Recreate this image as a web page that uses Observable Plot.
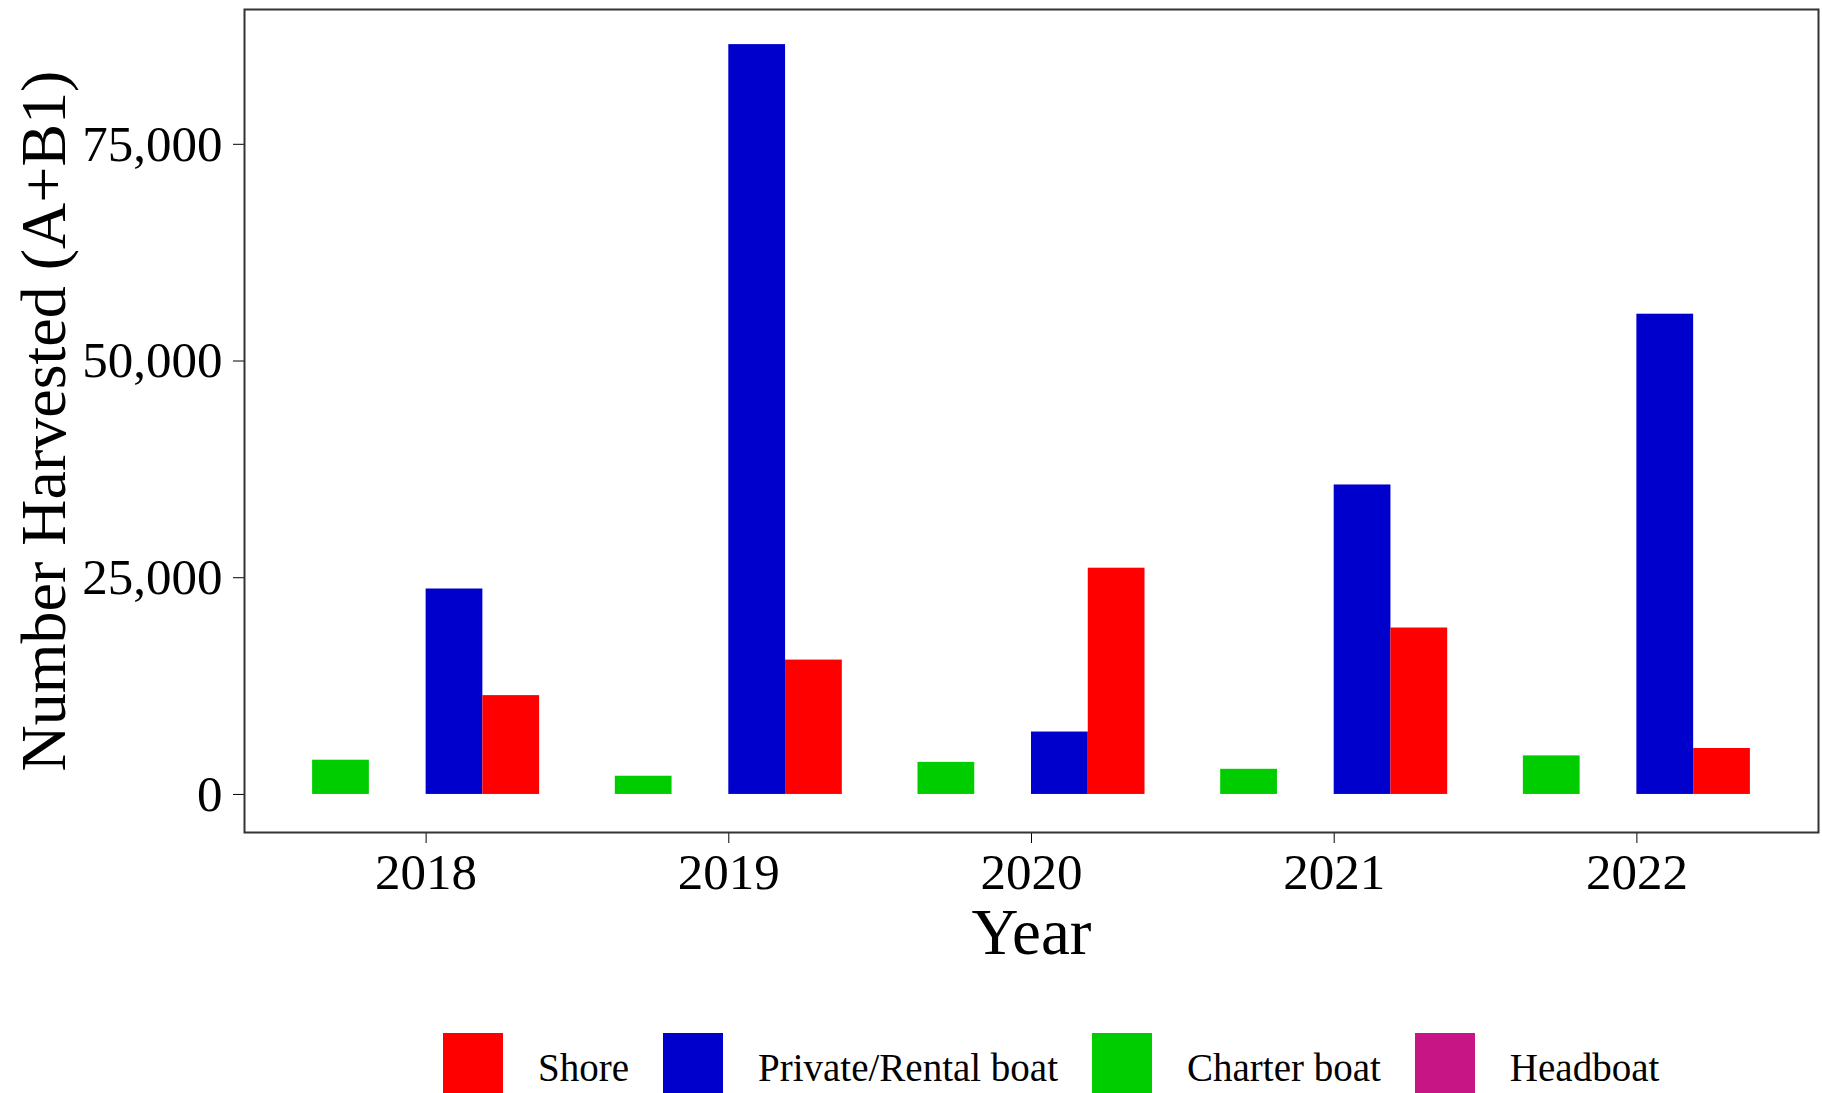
<!DOCTYPE html>
<html>
<head>
<meta charset="utf-8">
<script src="https://cdn.jsdelivr.net/npm/d3@7"></script>
<script src="https://cdn.jsdelivr.net/npm/@observablehq/plot@0.6"></script>
<style>
  html, body { margin: 0; padding: 0; background: #fff; overflow: hidden; }
  #chart { position: relative; width: 1822px; height: 1093px; font-family: "Liberation Serif", "Times New Roman", serif; }
  #chart svg { display: block; }
  #chart [aria-label="y-axis label"] { font-size: 64px; }
  #chart [aria-label="x-axis label"] { font-size: 65px; }
  .legend { display: flex; align-items: flex-start; height: 83px; overflow: hidden; padding-left: 443px; box-sizing: border-box; }
  .legend .sw { width: 60px; height: 60px; margin-top: 23px; flex: none; }
  .legend .lab { font-size: 39px; line-height: 39px; margin-top: 38px; margin-left: 35px; margin-right: 34px; white-space: nowrap; color: #000; }
</style>
</head>
<body>
<div id="chart"></div>
<script>
// ---- data ----
const years = ["2018", "2019", "2020", "2021", "2022"];
const dodgeOrder = ["Charter boat", "Headboat", "Private/Rental boat", "Shore"];
const legendOrder = ["Shore", "Private/Rental boat", "Charter boat", "Headboat"];
const legendColors = ["#FF0000", "#0000CD", "#00CD00", "#C71585"];
const shore = [11400, 15500, 26100, 19200, 5300];
const privateRental = [23700, 86500, 7200, 35700, 55400];
const charter = [3950, 2100, 3700, 2900, 4450];
const headboat = [0, 0, 0, 0, 0];
const yTicks = [0, 25000, 50000, 75000];

const seriesByMode = {
  "Shore": shore,
  "Private/Rental boat": privateRental,
  "Charter boat": charter,
  "Headboat": headboat
};

// dodge layout (like ggplot position_dodge): group width in year units
const groupWidth = 0.75;
const slotWidth = groupWidth / dodgeOrder.length;

const rows = [];
years.forEach((yr, i) => {
  dodgeOrder.forEach((mode, j) => {
    rows.push({year: yr, yi: i, mode, slot: j, value: seriesByMode[mode][i]});
  });
});

const fmt = d3.format(",");

const chart = Plot.plot({
  width: 1822,
  height: 1010,
  marginLeft: 244,
  marginRight: 4,
  marginTop: 9,
  marginBottom: 178,
  style: {fontFamily: "'Liberation Serif', 'Times New Roman', serif", fontSize: "51px", color: "#000", background: "#fff", overflow: "visible"},
  x: {
    domain: [-0.6, years.length - 1 + 0.6],
    ticks: years.map((_, i) => i),
    tickFormat: i => years[i],
    tickSize: 11,
    tickPadding: 9,
    label: "Year",
    labelArrow: "none",
    labelAnchor: "center",
    labelOffset: 121
  },
  y: {
    domain: [-4390, 90550],
    ticks: yTicks,
    tickFormat: fmt,
    tickSize: 11,
    tickPadding: 11,
    label: "Number Harvested (A+B1)",
    labelArrow: "none",
    labelAnchor: "center",
    labelOffset: 225
  },
  color: {domain: legendOrder, range: legendColors},
  marks: [
    Plot.rect(rows, {
      x1: d => d.yi - groupWidth / 2 + d.slot * slotWidth,
      x2: d => d.yi - groupWidth / 2 + (d.slot + 1) * slotWidth,
      y1: 0,
      y2: "value",
      fill: "mode"
    }),
    Plot.frame({stroke: "#333", strokeWidth: 2})
  ]
});

const root = document.getElementById("chart");
root.appendChild(chart);

// legend below the plot
const legend = document.createElement("div");
legend.className = "legend";
legendOrder.forEach((name, i) => {
  const sw = document.createElement("div");
  sw.className = "sw";
  sw.style.background = legendColors[i];
  const lab = document.createElement("span");
  lab.className = "lab";
  lab.textContent = name;
  legend.appendChild(sw);
  legend.appendChild(lab);
});
root.appendChild(legend);
</script>
</body>
</html>
